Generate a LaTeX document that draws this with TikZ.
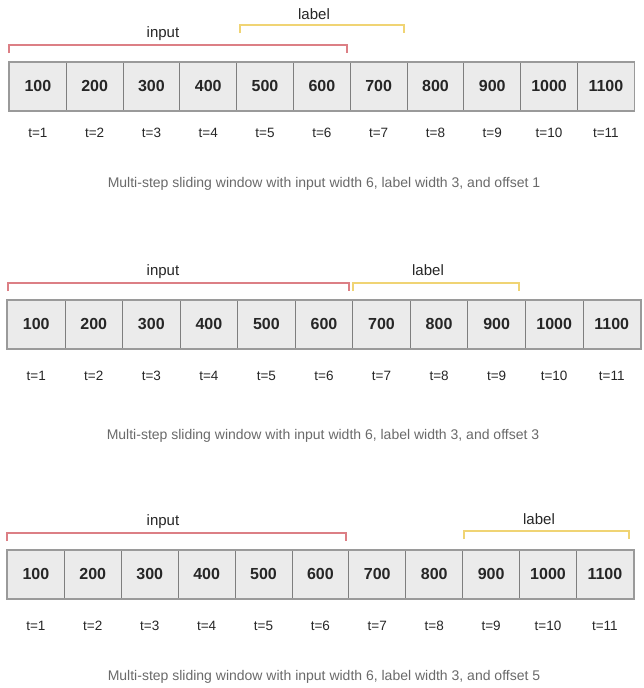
\documentclass[tikz,border=0pt]{standalone}
\usepackage{fontspec}
\setmainfont{Liberation Sans}
\definecolor{cellfill}{HTML}{EBEBEB}
\definecolor{cellline}{HTML}{7E7E7E}
\definecolor{frameline}{HTML}{9A9A9A}
\definecolor{inred}{HTML}{DC7F85}
\definecolor{labyel}{HTML}{F0D474}
\definecolor{capgray}{HTML}{6A6A6A}
\tikzset{
  cell/.style={draw=cellline, line width=0.9pt, fill=cellfill, inner sep=0pt,
    anchor=north west, font=\fontsize{16}{18}\selectfont\bfseries, text=black!85},
  rowframe/.style={draw=frameline, line width=1.4pt},
  tlab/.style={font=\fontsize{13.5}{15}\selectfont, text=black!85},
  brlab/.style={font=\fontsize{15}{17}\selectfont, text=black!85},
  inbr/.style={draw=inred, line width=1.3pt},
  labbr/.style={draw=labyel, line width=1.3pt},
  caption/.style={font=\fontsize{14}{16}\selectfont, text=capgray}
}
\newcommand\cellrow[6]{%
  \foreach \i in {1,...,11} {
    \pgfmathsetmacro\xl{#2+(\i-1)*#3}
    \pgfmathtruncatemacro\v{\i*100}
    \node[cell, minimum width=#3pt, minimum height=#5pt] (#1\i) at (\xl,#4) {\v};
    \node[tlab] (#1t\i) at (#1\i.center |- 0,#6) {t=\i};
  }
  \draw[rowframe] (#11.north west) rectangle (#111.south east);
}
\begin{document}
\begin{tikzpicture}[x=1pt,y=-1pt]
\useasboundingbox (0,0) rectangle (644,688);
\fill[white] (0,0) rectangle (644,688);

% ---------- panel 1 ----------
\cellrow{a}{9}{56.8}{62}{48}{133}
\coordinate (ail) at (9,53);   \coordinate (air) at (347,53);
\coordinate (all) at (240,33); \coordinate (alr) at (404,33);
\draw[inbr] (ail) -- ++(0,-8) -| (air);
\draw[labbr] (all) -- ++(0,-8) -| (alr);
\node[brlab] (ain) at (163,34) {input};
\node[brlab] (alb) at (314,14) {label};
\node[caption] (acap) at (324,184) {Multi-step sliding window with input width 6, label width 3, and offset 1};

% ---------- panel 2 ----------
\cellrow{b}{7}{57.55}{300}{48}{376}
\coordinate (bil) at (8,291);   \coordinate (bir) at (349,291);
\coordinate (bll) at (353,291); \coordinate (blr) at (519,291);
\draw[inbr] (bil) -- ++(0,-8) -| (bir);
\draw[labbr] (bll) -- ++(0,-8) -| (blr);
\node[brlab] (bin) at (163,272) {input};
\node[brlab] (blb) at (428,270) {label};
\node[caption] (bcap) at (323,436) {Multi-step sliding window with input width 6, label width 3, and offset 3};

% ---------- panel 3 ----------
\cellrow{c}{7}{56.9}{550}{48}{626}
\coordinate (cil) at (7,541);   \coordinate (cir) at (346,541);
\coordinate (cll) at (464,539); \coordinate (clr) at (629,539);
\draw[inbr] (cil) -- ++(0,-8) -| (cir);
\draw[labbr] (cll) -- ++(0,-8) -| (clr);
\node[brlab] (cin) at (163,522) {input};
\node[brlab] (clb) at (539,519) {label};
\node[caption] (ccap) at (324,677) {Multi-step sliding window with input width 6, label width 3, and offset 5};
\end{tikzpicture}
\end{document}
